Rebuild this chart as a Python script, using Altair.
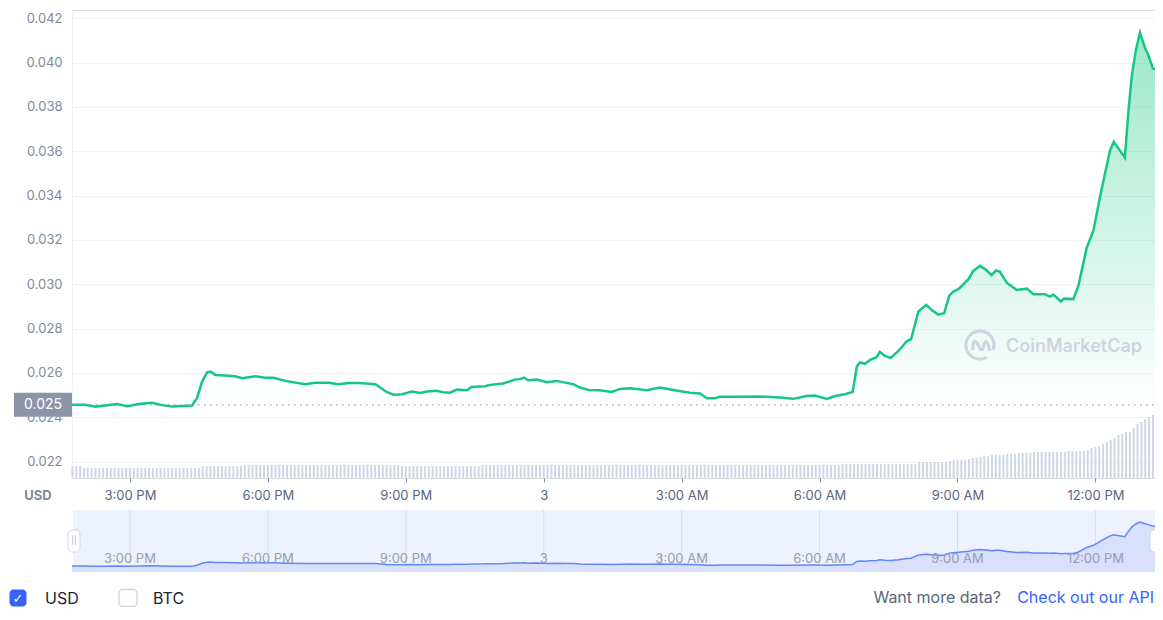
import altair as alt
import pandas as pd

# ---------------- data ----------------
hours = [13.74, 14.03, 14.25, 14.46, 14.72, 14.94, 15.19, 15.48, 15.66, 15.92,
         16.35, 16.46, 16.57, 16.68, 16.75, 16.86, 17.07, 17.29, 17.44, 17.73,
         17.94, 18.13, 18.38, 18.81, 19.03, 19.32, 19.54, 19.76, 19.98, 20.34,
         20.59, 20.74, 20.92, 21.13, 21.31, 21.46, 21.67, 21.82, 21.96, 22.11,
         22.33, 22.43, 22.72, 22.83, 23.12, 23.38, 23.48, 23.57, 23.66, 23.85,
         24.07, 24.28, 24.50, 24.64, 24.79, 24.97, 25.22, 25.48, 25.66, 25.88,
         26.24, 26.53, 26.82, 27.18, 27.40, 27.55, 27.73, 27.83, 28.27, 28.70,
         29.14, 29.43, 29.72, 29.90, 30.16, 30.34, 30.55, 30.72, 30.81, 30.88,
         30.99, 31.10, 31.24, 31.31, 31.42, 31.55, 31.71, 31.90, 31.99, 32.15,
         32.32, 32.44, 32.58, 32.71, 32.82, 32.91, 33.02, 33.24, 33.34, 33.49,
         33.62, 33.74, 33.84, 33.92, 34.07, 34.29, 34.51, 34.65, 34.90, 35.01,
         35.09, 35.25, 35.32, 35.52, 35.63, 35.81, 35.96, 36.10, 36.21, 36.32,
         36.40, 36.64, 36.72, 36.79, 36.88, 36.97, 37.08, 37.15, 37.25, 37.32,
         37.39, 37.47]

price = [0.02456, 0.02456, 0.02448, 0.02453, 0.02460, 0.02450, 0.02460, 0.02465, 0.02456, 0.02448,
         0.02453, 0.02487, 0.02561, 0.02603, 0.02606, 0.02591, 0.02588, 0.02585, 0.02576, 0.02585,
         0.02578, 0.02578, 0.02564, 0.02549, 0.02556, 0.02556, 0.02549, 0.02555, 0.02554, 0.02549,
         0.02513, 0.02502, 0.02504, 0.02516, 0.02510, 0.02516, 0.02519, 0.02513, 0.02511, 0.02525,
         0.02522, 0.02537, 0.02540, 0.02546, 0.02552, 0.02570, 0.02572, 0.02579, 0.02567, 0.02570,
         0.02558, 0.02564, 0.02555, 0.02549, 0.02534, 0.02523, 0.02522, 0.02514, 0.02528, 0.02531,
         0.02522, 0.02534, 0.02523, 0.02511, 0.02507, 0.02486, 0.02486, 0.02492, 0.02492, 0.02494,
         0.02489, 0.02483, 0.02496, 0.02498, 0.02483, 0.02496, 0.02504, 0.02514, 0.02629, 0.02647,
         0.02641, 0.02659, 0.02671, 0.02695, 0.02677, 0.02668, 0.02698, 0.02744, 0.02752, 0.02877,
         0.02907, 0.02884, 0.02863, 0.02869, 0.02949, 0.02967, 0.02978, 0.03023, 0.03059, 0.03083,
         0.03065, 0.03041, 0.03062, 0.03057, 0.03007, 0.02974, 0.02980, 0.02955, 0.02955, 0.02944,
         0.02953, 0.02922, 0.02935, 0.02933, 0.02993, 0.03164, 0.03245, 0.03395, 0.03501, 0.03606,
         0.03643, 0.03571, 0.03786, 0.03937, 0.04057, 0.04135, 0.04065, 0.04034, 0.03974, 0.03967,
         0.04065, 0.03974]

# 5-minute volume bars (relative units), 285 bars
volume = [12, 12, 12, 10, 10, 10, 10, 10, 10, 10, 10, 10, 10, 10, 10, 10, 10, 10, 10, 10,
          10, 10, 10, 10, 10, 10, 10, 10, 10, 10, 10, 10, 10, 10, 12, 12, 12, 12, 12, 12,
          12, 12, 12, 12, 12, 13, 13, 13, 13, 13, 13, 13, 13, 13, 13, 13, 13, 13, 13, 13,
          13, 13, 13, 13, 13, 13, 13, 13, 13, 13, 13, 13, 13, 13, 13, 13, 13, 13, 13, 13,
          13, 13, 13, 13, 13, 13, 12, 12, 12, 12, 12, 12, 12, 12, 12, 12, 12, 12, 12, 12,
          12, 12, 12, 12, 12, 12, 12, 13, 13, 13, 13, 13, 13, 13, 13, 13, 13, 13, 13, 13,
          13, 13, 13, 13, 13, 13, 13, 13, 13, 13, 13, 13, 13, 13, 13, 13, 13, 13, 13, 13,
          13, 13, 13, 13, 13, 13, 13, 13, 13, 13, 13, 13, 13, 13, 13, 13, 13, 13, 13, 13,
          13, 13, 13, 13, 13, 13, 13, 13, 13, 13, 13, 13, 13, 13, 13, 13, 13, 13, 13, 13,
          13, 13, 13, 13, 13, 13, 13, 13, 13, 13, 13, 13, 13, 13, 13, 13, 13, 13, 13, 13,
          13, 14, 14, 14, 14, 14, 14, 14, 14, 14, 14, 14, 14, 14, 14, 14, 14, 14, 14, 14,
          14, 16, 16, 16, 16, 16, 16, 16, 16, 17, 18, 18, 18, 18, 19, 20, 20, 21, 22, 22,
          23, 23, 23, 23, 24, 24, 24, 25, 25, 25, 25, 26, 26, 26, 26, 26, 26, 26, 26, 26,
          27, 27, 27, 27, 27, 28, 30, 31, 32, 34, 36, 38, 40, 43, 44, 46, 46, 50, 54, 56,
          59, 61, 63, 64, 67]

tick_hours = [15, 18, 21, 24, 27, 30, 33, 36]
tick_labels = ["3:00 PM", "6:00 PM", "9:00 PM", "3", "3:00 AM", "6:00 AM", "9:00 AM", "12:00 PM"]
y_ticks = [0.022, 0.024, 0.026, 0.028, 0.030, 0.032, 0.034, 0.036, 0.038, 0.040, 0.042]
open_price = 0.02456

# ---------------- layout ----------------
W, H = 1091, 468
X_DOMAIN = [13.74, 37.47]
Y_DOMAIN = [0.02126, 0.04237]
NAV_DOMAIN = [0.0223, 0.0459]
NAV_TOP, NAV_BOT = 500, 562
VIS_RIGHT = 1083  # last visible plot pixel (page is 8px narrower than the plot's right end)

GREEN = "#16c784"
BLUE = "#3861fb"
FONT = "Inter"

price_df = pd.DataFrame({"h": hours, "p": price})
vol_df = pd.DataFrame({"h": [13.75 + i / 12 for i in range(len(volume))], "v": volume})
tick_df = pd.DataFrame({"h": tick_hours, "label": tick_labels})

label_expr = "''"
for h, l in reversed(list(zip(tick_hours, tick_labels))):
    label_expr = f"datum.value == {h} ? '{l}' : ({label_expr})"

xscale = alt.Scale(domain=X_DOMAIN, nice=False, zero=False)
x_axis = alt.Axis(values=tick_hours, labelExpr=label_expr, grid=False, domain=False,
                  ticks=True, tickSize=4, tickColor="#858ca2", labelColor="#58667e",
                  labelFontSize=13, labelPadding=7, labelFont=FONT, title=None)
X = alt.X("h:Q", scale=xscale, axis=x_axis, title=None)
yscale = alt.Scale(domain=Y_DOMAIN, nice=False, zero=False)


def one(s="x"):
    return pd.DataFrame({"t": [s]})


def txt(s, x, y, **kw):
    return alt.Chart(one(s)).mark_text(**kw).encode(
        x=alt.value(x), y=alt.value(y), text="t:N")


def box(x, x2, y, y2, **kw):
    return alt.Chart(one()).mark_rect(**kw).encode(
        x=alt.value(x), x2=alt.value(x2), y=alt.value(y), y2=alt.value(y2))


grad = alt.Gradient(
    gradient="linear",
    stops=[alt.GradientStop(color="rgba(22,199,132,0.0)", offset=0),
           alt.GradientStop(color="rgba(22,199,132,0.42)", offset=1)],
    x1=1, x2=1, y1=1, y2=0,
)

area = alt.Chart(price_df).mark_area(color=grad).encode(
    x=X,
    y=alt.Y("p:Q", scale=yscale, title=None,
            axis=alt.Axis(orient="left", values=y_ticks, format=".3f", ticks=False,
                          domain=True, domainColor="#eff2f5", gridColor="#f1f3f6",
                          labelColor="#808a9d", labelFontSize=13, labelPadding=10,
                          labelFont=FONT, title=None)),
    y2=alt.Y2Datum(open_price),
)

# volume bars as thin rules (no scale padding)
vol = alt.Chart(vol_df).mark_rule(strokeWidth=2, color="#cfd6e4").encode(
    x=X,
    y=alt.Y("v:Q", scale=alt.Scale(domain=[0, H], nice=False, zero=True), axis=None),
    y2=alt.Y2Datum(0),
)

base_rule = alt.Chart(one()).mark_rule(strokeDash=[1.5, 4.5], color="#9aa3b5", strokeWidth=1.2).encode(
    y=alt.YDatum(open_price, type="quantitative", scale=yscale, axis=None),
    x=alt.value(0), x2=alt.value(W),
)

logo_path = ("M0.5,0.87 A1,1 0 1 1 0.94,0.34 "
             "M-0.5,0.38 L-0.5,-0.02 Q-0.42,-0.45 -0.18,-0.12 L0.02,0.28 "
             "Q0.14,0.45 0.24,0.18 L0.32,-0.1 Q0.44,-0.42 0.58,-0.05 L0.7,0.42")
logo = alt.Chart(one()).mark_point(shape=logo_path, filled=False, size=784, strokeWidth=3,
                                   color="#cfd3e0", opacity=1).encode(
    x=alt.value(908), y=alt.value(335))
wm_text = txt("CoinMarketCap", 934, 337, align="left", baseline="middle", fontSize=18,
              fontWeight=600, color="#cfd3e0", font=FONT)

line = alt.Chart(price_df).mark_line(color=GREEN, strokeWidth=2.5).encode(
    x=X,
    y=alt.Y("p:Q", scale=yscale, axis=None),
)

label_box = alt.Chart(one()).mark_rect(color="#8c94a7", yOffset=-12, y2Offset=12).encode(
    x=alt.value(-58), x2=alt.value(0),
    y=alt.YDatum(open_price, type="quantitative", scale=yscale, axis=None),
    y2=alt.Y2Datum(open_price),
)
label_txt = alt.Chart(one(f"{open_price:.3f}")).mark_text(
    color="white", fontSize=14, align="center", baseline="middle", font=FONT).encode(
    x=alt.value(-29),
    y=alt.YDatum(open_price, type="quantitative", scale=yscale, axis=None),
    text="t:N",
)

usd_axis = txt("USD", -34, 486, align="center", baseline="middle", fontSize=13,
               fontWeight="bold", color="#808a9d", font=FONT)

# ---------------- navigator ----------------
nav_scale = alt.Scale(domain=NAV_DOMAIN, range=[NAV_BOT, NAV_TOP], nice=False, zero=False)
nav_bg = box(1, W, NAV_TOP, NAV_BOT, color="#eef2fe")
nav_grid = alt.Chart(tick_df).mark_rule(color="#d9deee", strokeWidth=1).encode(
    x=X, y=alt.value(NAV_TOP), y2=alt.value(NAV_BOT))
nav_area = alt.Chart(price_df).mark_area(color="#d8e0fc").encode(
    x=X,
    y=alt.Y("p:Q", scale=nav_scale, axis=None),
    y2=alt.Y2Datum(NAV_DOMAIN[0]))
nav_line = alt.Chart(price_df).mark_line(color="#6187fb", strokeWidth=1.5).encode(
    x=X,
    y=alt.Y("p:Q", scale=nav_scale, axis=None))
nav_labels = alt.Chart(tick_df).mark_text(fontSize=13, color="#969dac", baseline="middle",
                                          align="center", font=FONT).encode(
    x=X, y=alt.value(549), text="label:N")
handle_l = box(-4, 8, 520, 542, fill="white", stroke="#cfd6e4", strokeWidth=1, cornerRadius=4)
grip_l = txt("||", 2, 531, fontSize=8, color="#a6adbb", align="center", baseline="middle", font=FONT)
handle_r = box(VIS_RIGHT - 5, VIS_RIGHT + 7, 520, 542, fill="white", stroke="#cfd6e4",
               strokeWidth=1, cornerRadius=4)

# ---------------- bottom controls ----------------
cb_usd = box(-62.5, -45.5, 579.5, 596.5, color=BLUE, cornerRadius=4)
cb_check = txt("✓", -54, 588.5, color="white", fontSize=13, align="center", baseline="middle",
               font="DejaVu Sans", fontWeight="bold")
usd_txt = txt("USD", -27, 588.5, align="left", baseline="middle", fontSize=16, color="#222531", font=FONT)
cb_btc = box(47, 65, 579.5, 596.5, fill="white", stroke="#cfd6e4", strokeWidth=1.5, cornerRadius=4)
btc_txt = txt("BTC", 81, 588.5, align="left", baseline="middle", fontSize=16, color="#222531", font=FONT)
more_txt = txt("Want more data?", VIS_RIGHT - 154, 588, align="right", baseline="middle", fontSize=16,
               color="#58667e", font=FONT)
api_txt = txt("Check out our API", VIS_RIGHT - 1, 588, align="right", baseline="middle", fontSize=16,
              color=BLUE, font=FONT)

chart = alt.layer(
    area, vol, base_rule, logo, wm_text, line, label_box, label_txt, usd_axis,
    nav_bg, nav_grid, nav_area, nav_line, nav_labels, handle_l, grip_l, handle_r,
    cb_usd, cb_check, usd_txt, cb_btc, btc_txt, more_txt, api_txt,
).resolve_scale(y="independent").properties(
    width=W, height=H,
    padding={"left": 64, "top": 2, "right": VIS_RIGHT - W, "bottom": 129},
    autosize=alt.AutoSizeParams(type="none"),
).configure_view(strokeWidth=0).configure(font=FONT)

chart.save("out.html", embed_options={"renderer": "svg", "actions": False})
